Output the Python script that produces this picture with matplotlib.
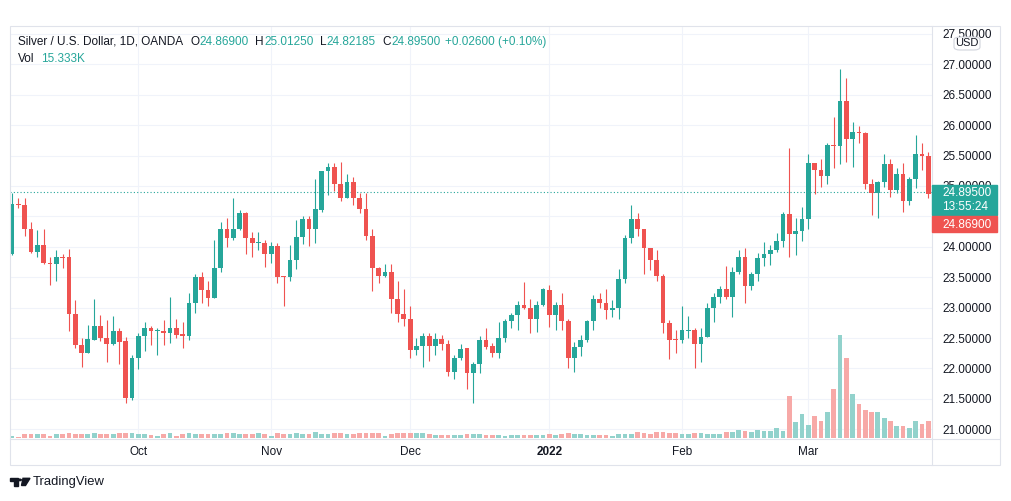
import numpy as np
import pandas as pd
import matplotlib
matplotlib.use("Agg")
import matplotlib.pyplot as plt
from matplotlib.patches import Rectangle, FancyBboxPatch, Polygon, Circle
from matplotlib.lines import Line2D

plt.rcParams['font.family'] = ['Liberation Sans', 'DejaVu Sans']

# daily bars, XAGUSD (OANDA), no bar on Christmas Eve
dates = pd.bdate_range("2021-09-03", "2022-03-28")
dates = dates[dates != pd.Timestamp("2021-12-24")]

opens = [23.88, 24.70, 24.68, 24.30, 23.92, 24.03, 23.73, 23.72, 23.84, 23.83,
         22.89, 22.38, 22.25, 22.47, 22.69, 22.50, 22.41, 22.62, 22.45, 21.52,
         22.17, 22.53, 22.66, 22.61, 22.62, 22.58, 22.66, 22.57, 22.54, 23.07,
         23.51, 23.29, 23.16, 23.65, 24.29, 24.14, 24.30, 24.55, 24.14, 24.06,
         24.07, 23.88, 24.02, 23.52, 23.50, 23.78, 24.16, 24.45, 24.29, 24.61,
         25.25, 25.32, 25.04, 24.81, 25.07, 24.80, 24.62, 24.18, 23.65, 23.52,
         23.58, 23.15, 22.90, 22.82, 22.30, 22.37, 22.53, 22.37, 22.48, 22.41,
         21.95, 22.17, 22.33, 21.93, 22.07, 22.47, 22.37, 22.25, 22.50, 22.78,
         22.88, 23.05, 23.00, 22.81, 23.04, 23.29, 22.88, 23.04, 22.78, 22.18,
         22.35, 22.47, 22.78, 23.14, 23.07, 22.96, 23.00, 23.47, 24.14, 24.45,
         24.29, 23.98, 23.79, 23.52, 22.74, 22.48, 22.46, 22.62, 22.64, 22.40,
         22.52, 22.99, 23.17, 23.30, 23.18, 23.58, 23.84, 23.35, 23.56, 23.81,
         23.88, 23.95, 24.09, 24.54, 24.21, 24.26, 24.45, 25.37, 25.27, 25.17,
         25.68, 25.66, 26.40, 25.77, 25.89, 25.87, 25.03, 24.88, 25.07, 25.36,
         24.93, 25.20, 24.75, 25.11, 25.52, 25.50]
highs = [24.88, 24.81, 24.81, 24.40, 24.28, 24.29, 23.84, 23.95, 23.89, 23.96,
         23.13, 22.50, 22.71, 23.15, 22.88, 22.80, 22.86, 22.67, 22.52, 22.22,
         22.59, 22.77, 22.69, 22.66, 22.80, 23.18, 22.81, 22.77, 23.24, 23.56,
         23.58, 23.44, 24.11, 24.41, 24.47, 24.81, 24.60, 24.58, 24.24, 24.24,
         24.11, 24.08, 24.06, 23.52, 24.03, 24.44, 24.51, 24.50, 25.12, 25.25,
         25.37, 25.37, 25.39, 25.20, 25.15, 24.89, 24.88, 24.30, 23.67, 23.72,
         23.72, 23.43, 23.30, 23.03, 22.50, 22.58, 22.59, 22.58, 22.55, 22.46,
         22.22, 22.41, 22.33, 22.11, 22.53, 22.66, 22.42, 22.77, 22.82, 22.92,
         23.11, 23.42, 23.14, 23.11, 23.32, 23.38, 23.10, 23.24, 22.81, 22.44,
         22.55, 22.80, 23.21, 23.24, 23.30, 23.13, 23.63, 24.19, 24.69, 24.56,
         24.30, 23.98, 23.95, 23.55, 22.80, 22.63, 23.03, 22.86, 22.66, 22.66,
         23.08, 23.24, 23.35, 23.69, 23.67, 23.94, 23.98, 23.59, 23.90, 24.08,
         24.03, 24.22, 24.58, 25.62, 24.47, 24.66, 25.52, 25.38, 25.45, 25.70,
         26.14, 26.93, 26.77, 26.06, 25.99, 25.89, 25.11, 25.09, 25.52, 25.44,
         25.29, 25.37, 25.15, 25.84, 25.70, 25.56]
lows = [23.87, 24.64, 24.17, 23.90, 23.84, 23.72, 23.38, 23.43, 23.65, 22.61,
        22.33, 22.03, 22.25, 22.47, 22.45, 22.11, 22.38, 22.08, 21.43, 21.48,
        21.99, 22.28, 22.39, 22.22, 22.39, 22.42, 22.50, 22.33, 22.47, 22.91,
        23.07, 23.02, 23.16, 23.58, 24.00, 24.11, 24.28, 23.88, 23.84, 23.95,
        23.67, 23.74, 23.40, 23.02, 23.44, 23.63, 24.05, 24.02, 24.06, 24.58,
        24.85, 24.91, 24.75, 24.81, 24.69, 24.55, 24.11, 23.28, 23.40, 23.51,
        22.92, 22.76, 22.70, 22.18, 22.22, 22.03, 22.13, 22.22, 22.30, 21.87,
        21.82, 22.14, 21.67, 21.43, 21.92, 22.32, 22.19, 22.18, 22.44, 22.66,
        22.64, 22.97, 22.59, 22.60, 23.02, 22.68, 22.64, 22.63, 22.00, 21.94,
        22.21, 22.44, 22.64, 22.99, 22.82, 22.85, 22.81, 23.40, 24.07, 24.18,
        23.56, 23.62, 23.43, 22.58, 22.15, 22.25, 22.42, 22.50, 22.00, 22.11,
        22.51, 22.77, 23.08, 23.14, 22.85, 23.55, 23.08, 23.29, 23.44, 23.68,
        23.70, 23.92, 24.00, 23.84, 23.86, 24.09, 24.29, 24.87, 24.98, 25.04,
        25.29, 25.36, 25.40, 25.31, 25.71, 24.95, 24.53, 24.47, 24.99, 24.82,
        24.89, 24.58, 24.69, 24.96, 25.26, 24.80]
closes = [24.70, 24.68, 24.30, 23.92, 24.03, 23.73, 23.72, 23.84, 23.82, 22.89,
          22.38, 22.25, 22.48, 22.69, 22.50, 22.41, 22.62, 22.44, 21.52, 22.17,
          22.53, 22.66, 22.61, 22.62, 22.58, 22.66, 22.55, 22.54, 23.07, 23.51,
          23.29, 23.16, 23.65, 24.29, 24.14, 24.30, 24.55, 24.14, 24.06, 24.07,
          23.88, 24.02, 23.51, 23.50, 23.78, 24.16, 24.45, 24.29, 24.62, 25.25,
          25.32, 25.04, 24.81, 25.07, 24.80, 24.62, 24.17, 23.65, 23.52, 23.58,
          23.15, 22.90, 22.81, 22.30, 22.37, 22.53, 22.37, 22.48, 22.40, 21.95,
          22.17, 22.32, 21.93, 22.07, 22.47, 22.36, 22.25, 22.50, 22.78, 22.88,
          23.05, 23.00, 22.81, 23.04, 23.30, 22.88, 23.04, 22.78, 22.18, 22.35,
          22.47, 22.78, 23.14, 23.07, 22.96, 23.00, 23.47, 24.14, 24.45, 24.29,
          23.98, 23.79, 23.52, 22.74, 22.47, 22.46, 22.63, 22.64, 22.40, 22.52,
          22.99, 23.17, 23.30, 23.18, 23.58, 23.84, 23.35, 23.56, 23.81, 23.88,
          23.95, 24.10, 24.54, 24.21, 24.26, 24.45, 25.37, 25.27, 25.17, 25.68,
          25.66, 26.40, 25.77, 25.89, 25.87, 25.03, 24.88, 25.07, 25.36, 24.93,
          25.20, 24.75, 25.11, 25.52, 25.49, 24.86]
# volume in thousands
volume = [4.6, 2.6, 8, 8, 8, 8, 4, 8, 8, 10.6,
          8, 8, 8, 10.6, 8, 8, 8, 9.4, 9.4, 9.4,
          8, 8, 6.6, 4, 8, 9.4, 4, 8, 9.4, 8,
          8, 8, 8, 8, 9.4, 9.4, 8, 8, 8, 9.4,
          8, 4, 9.4, 8, 8, 9.4, 8, 8, 11.4, 8,
          8, 9.4, 9.4, 8, 8, 9.4, 9.4, 10.6, 9.4, 4,
          8, 9.4, 10.6, 10.6, 9.4, 9.4, 8, 6.6, 6.6, 6.6, 6.6, 6.6,
          8, 8.6, 8.6, 6.6, 6.6, 6, 4.6, 5.4, 6.6, 6.6,
          6.6, 6.6, 6.6, 8.6, 6.6, 7.4, 10.6, 8.6, 8.6, 6.6,
          6.6, 6.6, 6, 4, 8.6, 8.6, 8.6, 11.4, 10.6, 8.6,
          11.4, 12.6, 10.6, 9.4, 8.6, 8.6, 10.6, 10.6, 8.6, 7.4,
          7.4, 11.4, 12.6, 16.6, 14.6, 11.4, 16.6, 13.4, 14.6, 20.6,
          13.4, 84.6, 32.6, 48.6, 25.4, 44.6, 34.6, 52.6, 98.6, 206.6,
          159.4, 88.6, 68.6, 56.6, 52.6, 52.6, 40, 34.6, 24.6, 24.6,
          20.6, 34.6, 28.6, 34.6]

last_price = 24.895
prev_close = 24.869
countdown = "13:55:24"
title = "Silver / U.S. Dollar, 1D, OANDA"
ohlc_now = [("O", "24.86900"), ("H", "25.01250"), ("L", "24.82185"), ("C", "24.89500")]
change = "+0.02600 (+0.10%)"
vol_now = "15.333K"

UP = '#26a69a'
DOWN = '#ef5350'
UP_VOL = '#92d2cc'
DOWN_VOL = '#f7a9a7'
DARK = '#131722'
GRID = '#f0f3fa'
BORDER = '#e0e3eb'

W, H = 1012, 501
fig = plt.figure(figsize=(W / 100, H / 100), dpi=100)
fig.patch.set_facecolor('white')


def fx(x):
    return x / W


def fy(y):
    return 1 - y / H


ax = fig.add_axes([fx(10), fy(438), fx(922), 412 / H])
# volume overlay (made first: twinx moves the price ticks to the left)
axv = ax.twinx()

x = np.arange(len(dates))
o = np.array(opens)
hi = np.array(highs)
lo = np.array(lows)
c = np.array(closes)
up = c >= o
col = np.where(up, UP, DOWN)

ax.vlines(x, lo, hi, colors=col, lw=0.8, zorder=3)
ax.bar(x, np.maximum(np.abs(c - o), 0.017), bottom=np.minimum(o, c),
       width=0.75, color=col, lw=0, zorder=4)
ax.axhline(last_price, color=UP, ls=(0, (1, 2)), lw=0.8, zorder=2)

axv.bar(x, volume, width=0.75, color=np.where(up, UP_VOL, DOWN_VOL), lw=0)
axv.set_ylim(0, 824)
axv.axis('off')

ax.set_xlim(-0.32, 145.57)
ax.set_ylim(20.857, 27.63)
for s in ax.spines.values():
    s.set_visible(False)

yt = np.arange(21.0, 27.51, 0.5)
ax.set_yticks(yt)
# the 24.5 label sits fully under the price tags, so it is left blank
ax.set_yticklabels(["" if abs(v - 24.5) < 1e-9 else f"{v:.5f}" for v in yt])
ax.yaxis.tick_right()
ax.tick_params(axis='y', left=False, labelleft=False, right=False, labelright=True,
               length=0, pad=7.2, labelsize=8.5, labelcolor=DARK)

# first bar of each month after the first one
month = dates.to_period('M')
starts = [i for i in range(1, len(dates)) if month[i] != month[i - 1]]
labels = [str(dates[i].year) if dates[i].month == 1 else dates[i].strftime('%b') for i in starts]
ax.set_xticks(starts)
ax.set_xticklabels(labels)
ax.tick_params(axis='x', length=0, pad=6, labelsize=8.5, labelcolor=DARK)
for t in ax.get_xticklabels():
    if t.get_text().isdigit():
        t.set_fontweight('bold')

ax.grid(color=GRID, lw=0.8)
ax.set_axisbelow(True)

# frame and separators
fig.add_artist(Rectangle((fx(10), fy(465)), fx(990), 439 / H, fill=False,
                         ec=BORDER, lw=0.8, transform=fig.transFigure))
fig.add_artist(Line2D([fx(932), fx(932)], [fy(26), fy(465)], color=BORDER, lw=0.8,
                      transform=fig.transFigure))
fig.add_artist(Line2D([fx(10), fx(1000)], [fy(438.5), fy(438.5)], color=BORDER, lw=0.8,
                      transform=fig.transFigure))

# price tags on the scale
fig.add_artist(Rectangle((fx(932), fy(215)), fx(65), 30 / H, color=UP,
                         transform=fig.transFigure, zorder=5))
fig.text(fx(942), fy(193.5), f"{last_price:.5f}", color='white', fontsize=8.5,
         va='center', zorder=6)
fig.text(fx(942), fy(207.5), countdown, color='white', fontsize=8.5, va='center', zorder=6)
fig.add_artist(Rectangle((fx(932), fy(232.5)), fx(65), 16 / H, color=DOWN,
                         transform=fig.transFigure, zorder=5))
fig.text(fx(942), fy(224.5), f"{prev_close:.5f}", color='white', fontsize=8.5,
         va='center', zorder=6)

fig.add_artist(FancyBboxPatch((fx(954), fy(50)), fx(26), 13 / H,
                              boxstyle="round,pad=0,rounding_size=0.006",
                              fc='white', ec='#d1d4dc', lw=0.8,
                              transform=fig.transFigure, zorder=5))
fig.text(fx(967), fy(43.5), "USD", color=DARK, fontsize=8, ha='center', va='center', zorder=6)

# legend line at top-left
fig.canvas.draw()
rend = fig.canvas.get_renderer()


def chain(pieces, x0, y):
    xc = x0
    for txt, colr, gap in pieces:
        t = fig.text(fx(xc), fy(y), txt, color=colr, fontsize=8.5, va='center', ha='left')
        xc += t.get_window_extent(renderer=rend).width + gap


pieces = [(title, DARK, 7.5)]
for k, v in ohlc_now:
    pieces.append((k, DARK, 0.3))
    pieces.append((v, UP, 6.3))
pieces[-1] = (pieces[-1][0], UP, 4.5)
pieces.append((change, UP, 0))
chain(pieces, 18, 42)
chain([("Vol", DARK, 6.5), (vol_now, UP, 0)], 18, 59)

# TradingView mark
fig.add_artist(Polygon([(fx(10), fy(478.3)), (fx(17.5), fy(478.3)), (fx(17.5), fy(485.5)),
                        (fx(14), fy(485.5)), (fx(14), fy(481.2)), (fx(10), fy(481.2))],
                       closed=True, color=DARK, transform=fig.transFigure))
fig.add_artist(Circle((fx(19.8), fy(479.9)), 1.5 / W, color=DARK, transform=fig.transFigure))
fig.add_artist(Polygon([(fx(23), fy(478.3)), (fx(30), fy(478.3)), (fx(25.5), fy(485.5)),
                        (fx(21.5), fy(485.5))],
                       closed=True, color=DARK, transform=fig.transFigure))
fig.text(fx(33), fy(482.5), "TradingView", color=DARK, fontsize=9.4, va='center')

fig.savefig("out.png", dpi=100, facecolor='white')
